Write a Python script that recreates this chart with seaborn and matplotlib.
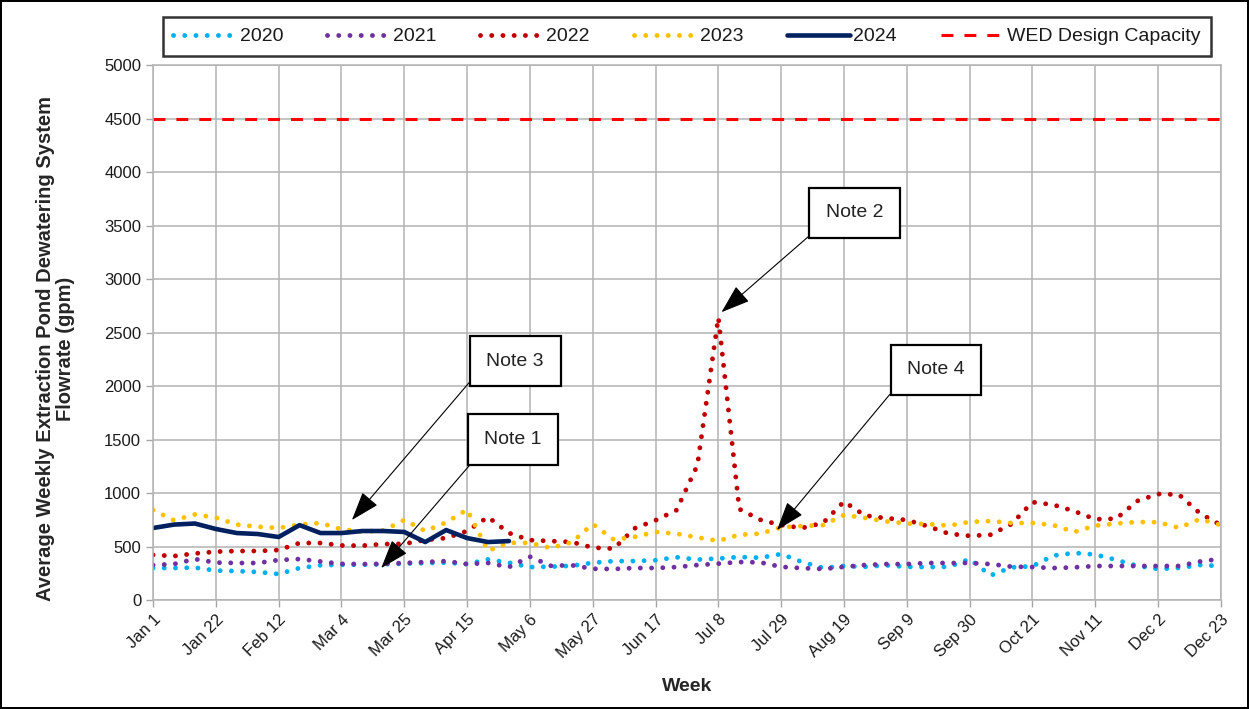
import numpy as np
import pandas as pd
import seaborn as sns
import matplotlib.pyplot as plt

sns.set_theme(style="whitegrid")
plt.rcParams["font.family"] = ["Liberation Sans", "DejaVu Sans"]

# weekly averages (gpm), week 0 = Jan 1
y2020 = [299, 299, 303, 275, 271, 262, 243, 299, 325, 330, 330, 335, 340, 345, 350, 336, 380, 348,
         308, 312, 320, 348, 364, 364, 372, 400, 378, 388, 402, 395, 430, 355, 300, 318, 310, 325,
         310, 308, 310, 383, 230, 305, 316, 415, 440, 425, 375, 320, 290, 300, 327, 318]
y2021 = [327, 336, 383, 350, 346, 346, 374, 383, 360, 338, 336, 338, 346, 355, 364, 336, 346, 308,
         405, 320, 325, 292, 290, 299, 299, 308, 327, 340, 355, 352, 310, 298, 290, 310, 327, 336,
         336, 346, 346, 346, 336, 312, 308, 299, 305, 318, 318, 318, 318, 318, 360, 385]
y2022 = [421, 411, 435, 452, 458, 458, 467, 533, 533, 510, 508, 523, 525, 562, 579, 645, 776, 626,
         560, 551, 542, 490, 480, 670, 745, 840, 1260, 2640, 850, 750, 700, 673, 720, 920, 790, 765,
         748, 690, 620, 600, 610, 710, 915, 890, 830, 755, 760, 925, 991, 985, 810, 700]
y2023 = [841, 745, 800, 770, 705, 685, 673, 705, 720, 660, 640, 650, 748, 645, 725, 845, 460, 535,
         533, 486, 540, 710, 565, 590, 636, 620, 585, 553, 610, 620, 680, 692, 700, 794, 768, 735,
         715, 710, 695, 730, 738, 720, 720, 700, 636, 695, 715, 729, 727, 675, 757, 700]
y2024 = [673, 705, 715, 664, 626, 617, 589, 700, 626, 626, 645, 645, 636, 542, 654, 579, 542, 551]
design_capacity = 4500

tick_weeks = list(range(0, 52, 3))
tick_labels = ["Jan 1", "Jan 22", "Feb 12", "Mar 4", "Mar 25", "Apr 15", "May 6", "May 27", "Jun 17",
               "Jul 8", "Jul 29", "Aug 19", "Sep 9", "Sep 30", "Oct 21", "Nov 11", "Dec 2", "Dec 23"]

notes = ["Note 1", "Note 2", "Note 3", "Note 4"]
note_text_xy = [(17.2, 1500), (33.5, 3617), (17.3, 2230), (37.4, 2150)]
note_tip_xy = [(10.9, 299), (27.15, 2690), (9.5, 748), (29.8, 654)]
note_relpos = [(0, 0), (0, 0), (0, 0.45), (0, 0.3)]

fig = plt.figure(figsize=(12.49, 7.09), dpi=100)
fig.patch.set_edgecolor("black")
fig.patch.set_linewidth(1.5)
ax = fig.add_axes([0.1225, 0.1537, 0.855, 0.7546])

dotted = (0, (0.01, 2.3))
series = [("2020", y2020, "#00B0F0"), ("2021", y2021, "#7030A0"),
          ("2022", y2022, "#C00000"), ("2023", y2023, "#FFC000")]
for name, vals, col in series:
    sns.lineplot(x=np.arange(len(vals)), y=vals, ax=ax, color=col, linewidth=3.5,
                 linestyle=dotted, dash_capstyle="round", label=name)
sns.lineplot(x=np.arange(len(y2024)), y=y2024, ax=ax, color="#002060", linewidth=3.3,
             label="2024", solid_joinstyle="round")
ax.axhline(design_capacity, color="#FF0000", linewidth=2.2, linestyle=(0, (3.9, 3.6)),
           label="WED Design Capacity", zorder=1.5)

for txt, xy_t, xy_p, rp in zip(notes, note_text_xy, note_tip_xy, note_relpos):
    ax.annotate(txt, xy=xy_p, xytext=xy_t, ha="center", va="center", fontsize=14, color="#222222",
                bbox=dict(boxstyle="square,pad=0.85", fc="white", ec="black", lw=1.6),
                arrowprops=dict(arrowstyle="-|>,head_length=1.3,head_width=0.45", color="black",
                                lw=0.8, shrinkA=0, shrinkB=0, relpos=rp), zorder=6)

ax.set_xlim(0, 51)
ax.set_ylim(0, 5000)
ax.set_yticks(range(0, 5001, 500))
ax.set_xticks(tick_weeks)
ax.set_xticklabels(tick_labels, rotation=45, ha="right", rotation_mode="anchor")
ax.tick_params(axis="both", labelsize=12, colors="#A6A6A6", labelcolor="#1a1a1a",
               length=5, width=1, bottom=True, left=True, direction="out")
ax.grid(True, color="#B3B3B3", linewidth=1.1)
for sp in ax.spines.values():
    sp.set_color("#B3B3B3")
    sp.set_linewidth(1.1)

ax.set_xlabel("Week", fontsize=14, fontweight="bold", labelpad=12)
ax.set_ylabel("Average Weekly Extraction Pond Dewatering System\nFlowrate (gpm)",
              fontsize=14.5, fontweight="bold", linespacing=1.05)
ax.yaxis.set_label_coords(-0.073, 0.47)

handles, labels = ax.get_legend_handles_labels()
ax.get_legend().remove()
leg = fig.legend(handles, labels, loc="center", ncol=6, mode="expand",
                 bbox_to_anchor=(0.1225, 0.921, 0.855, 0.055), fontsize=14,
                 frameon=True, fancybox=False, edgecolor="black", handlelength=3.2,
                 handletextpad=0.2, borderpad=0.55)
leg.get_frame().set_linewidth(1.8)
for t in leg.get_texts():
    t.set_color("#1a1a1a")

fig.savefig("out.png", dpi=100)
